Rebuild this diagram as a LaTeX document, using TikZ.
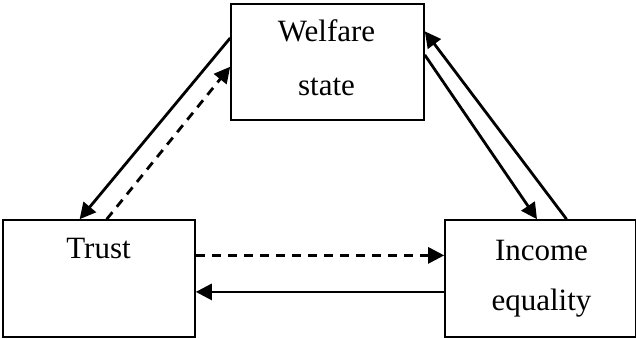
\documentclass[tikz,border=0pt]{standalone}
\usepackage{fontspec}
\setmainfont{Liberation Serif}
\usetikzlibrary{arrows.meta,calc}
\begin{document}
\begin{tikzpicture}[x=1pt,y=-1pt,
  box/.style={draw=black,line width=1.6pt,minimum height=117pt,inner sep=0pt},
  lbl/.style={anchor=base,font=\fontsize{31}{31}\selectfont,inner sep=0pt},
  conn/.style={line width=2.8pt,-{Triangle[length=16pt,width=16pt]}},
  dsh/.style={conn,dash pattern=on 9pt off 7pt}]
\useasboundingbox (0,0) rectangle (636,338);
\node[box,minimum width=193pt,minimum height=116pt] (ws) at (327.5,62) {};
\node[box,minimum width=192pt] (tr) at (99,278.5) {};
\node[box,minimum width=190.5pt] (ie) at (540.25,278.5) {};
\node[lbl] (l1) at (326.5,41.7) {Welfare};
\node[lbl] (l2) at (326.5,95) {state};
\node[lbl] (l3) at (98.5,258.3) {Trust};
\node[lbl] (l4) at (541.5,260) {Income};
\node[lbl] (l5) at (541.5,310) {equality};
% Welfare <-> Trust
\draw[conn] ($(ws.north west)!0.296!(ws.south west)$) -- ($(tr.north west)!0.40!(tr.north east)$);
\draw[dsh] ($(tr.north west)!0.54!(tr.north east)$) -- ($(ws.north west)!0.54!(ws.south west)$);
% Welfare <-> Income
\draw[conn] ($(ie.north west)!0.637!(ie.north east)$) -- ($(ws.north east)!0.239!(ws.south east)$);
\draw[conn] ($(ws.north east)!0.44!(ws.south east)$) -- ($(ie.north west)!0.483!(ie.north east)$);
% Trust <-> Income
\draw[dsh] ($(tr.north east)!0.305!(tr.south east)$) -- ($(ie.north west)!0.305!(ie.south west)$);
\draw[conn] ($(ie.north west)!0.613!(ie.south west)$) -- ($(tr.north east)!0.613!(tr.south east)$);
\end{tikzpicture}
\end{document}
